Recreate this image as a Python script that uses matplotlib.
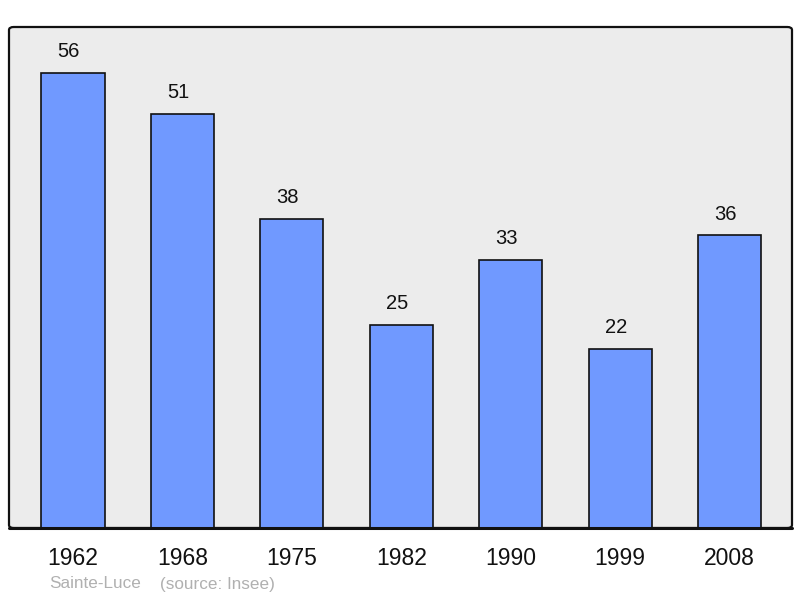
import matplotlib.pyplot as plt
from matplotlib.patches import FancyBboxPatch

## Données
annees = ["1962", "1968", "1975", "1982", "1990", "1999", "2008"]
population = [56, 51, 38, 25, 33, 22, 36]
commune = "Sainte-Luce"
source = "(source: Insee)"

plt.rcParams['font.family'] = ['Liberation Sans', 'DejaVu Sans']

fig = plt.figure(figsize=(8, 5.98), dpi=100)
ax = fig.add_axes([9/800, 70/598, 783/800, 501/598])
ax.set_xlim(-0.585, 6.572)
ax.set_ylim(0, 61.66)
ax.set_facecolor('none')

# fond et cadre arrondi
fond = FancyBboxPatch((0, 0), 1, 1, boxstyle="round,pad=0,rounding_size=0.006",
                      transform=ax.transAxes, facecolor='#ececec', edgecolor='#111111',
                      linewidth=1.6, zorder=0, clip_on=False)
ax.add_patch(fond)
ax.plot([0, 1], [0, 0], transform=ax.transAxes, color='#111111', linewidth=2.2,
        clip_on=False, zorder=4, solid_capstyle='round')
for s in ax.spines.values():
    s.set_visible(False)

x = list(range(len(annees)))
ax.bar(x, population, width=0.576, color='#7099ff', edgecolor='#111111',
       linewidth=1.2, zorder=2)

for xi, v in zip(x, population):
    ax.annotate(str(v), (xi, v), xytext=(-3, 11.5), textcoords='offset points',
                ha='center', va='baseline', fontsize=14.5, color='#111111')

ax.set_xticks(x)
ax.set_xticklabels(annees, fontsize=16.5, color='#111111')
ax.tick_params(axis='x', length=0, pad=14)
ax.set_yticks([])

fig.text(49/800, 14/598, commune, fontsize=12.3, color='#b0b0b0', va='center', ha='left')
fig.text(160/800, 14/598, source, fontsize=12.3, color='#b0b0b0', va='center', ha='left')

plt.savefig("out.png", dpi=100)
